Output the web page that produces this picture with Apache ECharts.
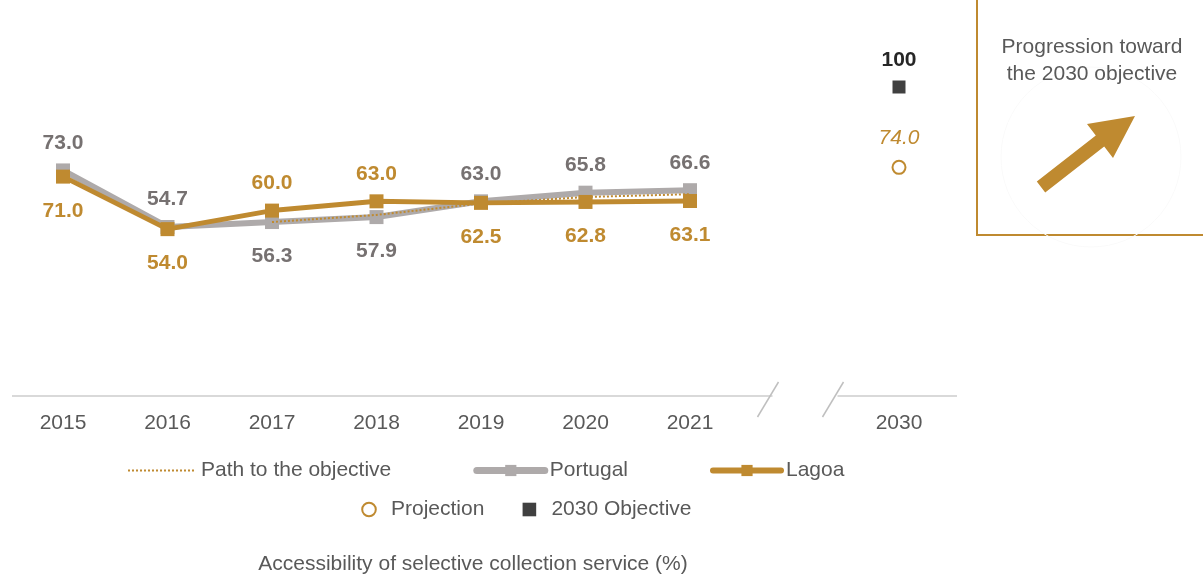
<!DOCTYPE html>
<html><head><meta charset="utf-8">
<script src="https://cdn.jsdelivr.net/npm/echarts@6/dist/echarts.min.js"></script>
<style>html,body{margin:0;padding:0;background:#fff}#c{width:1203px;height:577px}</style>
</head><body><div id="c"></div>
<script>
const categories = ['2015','2016','2017','2018','2019','2020','2021','','2030'];
const portugal = [73.0, 54.7, 56.3, 57.9, 63.0, 65.8, 66.6, null, null];
const lagoa = [71.0, 54.0, 60.0, 63.0, 62.5, 62.8, 63.1, null, null];
const pathToObjective = [null, null, 56.3, 58.6, 62.3, 64.4, 65.3, null, null];
const projection = [null, null, null, null, null, null, null, null, 74.0];
const objective2030 = [null, null, null, null, null, null, null, null, 100];
const seriesNames = ['Path to the objective', 'Portugal', 'Lagoa', 'Projection', '2030 Objective'];
const chartTitle = 'Accessibility of selective collection service (%)';
const boxText = 'Progression toward\nthe 2030 objective';

const GOLD = '#BF8A30', GRAY = '#AEAAAA', GRAYTXT = '#767171', TXT = '#595959', DARK = '#404040';
const FONT = "'Liberation Sans', Arial, sans-serif";
const FS = 21;
const portugalBelow = [2, 3];   // indices labelled below the point
const lagoaAbove = [2, 3];      // indices labelled above the point

function withLabels(values, isBelow) {
  return values.map((v, i) => v == null ? null : {
    value: v,
    label: { position: isBelow(i) ? 'bottom' : 'top', distance: isBelow(i) ? 17 : 10 }
  });
}

const chart = echarts.init(document.getElementById('c'), null, { renderer: 'canvas' });
const option = {
  animation: false,
  textStyle: { fontFamily: FONT },
  grid: { left: 10.75, right: 251.75, top: 87, bottom: 181, containLabel: false },
  xAxis: {
    type: 'category', data: categories, boundaryGap: true,
    axisLine: { show: false }, axisTick: { show: false },
    axisLabel: { color: TXT, fontSize: FS, fontFamily: FONT, margin: 17 }
  },
  yAxis: { type: 'value', min: 0, max: 100, show: false, splitLine: { show: false } },
  legend: [
    {
      data: [
        { name: seriesNames[0], itemStyle: { opacity: 0 }, lineStyle: { width: 2, type: 'dotted', color: GOLD } },
        { name: seriesNames[1], lineStyle: { width: 7, cap: 'round', color: GRAY } },
        { name: seriesNames[2], lineStyle: { width: 6, cap: 'round', color: GOLD } }
      ],
      top: 455, left: 122, itemWidth: 68, itemHeight: 14, itemGap: 82,
      textStyle: { color: TXT, fontSize: FS, fontFamily: FONT }
    },
    {
      data: seriesNames.slice(3), top: 494, left: 347, itemWidth: 34, itemHeight: 17, itemGap: 28,
      textStyle: { color: TXT, fontSize: FS, fontFamily: FONT }
    }
  ],
  title: {
    text: chartTitle, left: 468, textAlign: 'center', top: 549,
    textStyle: { color: TXT, fontSize: 21, fontWeight: 'normal', fontFamily: FONT }
  },
  series: [
    {
      name: seriesNames[1], type: 'line', data: withLabels(portugal, i => portugalBelow.includes(i)),
      symbol: 'rect', symbolSize: 14, z: 2,
      lineStyle: { color: GRAY, width: 6 }, itemStyle: { color: GRAY },
      label: { show: true, color: GRAYTXT, fontSize: FS, fontWeight: 'bold', fontFamily: FONT, formatter: p => p.value.toFixed(1) }
    },
    {
      name: seriesNames[0], type: 'line', data: pathToObjective, symbol: 'none', z: 3,
      lineStyle: { color: GOLD, width: 2, type: 'dotted' }, itemStyle: { color: GOLD }
    },
    {
      name: seriesNames[2], type: 'line', data: withLabels(lagoa, i => !lagoaAbove.includes(i)),
      symbol: 'rect', symbolSize: 14, z: 4,
      lineStyle: { color: GOLD, width: 5 }, itemStyle: { color: GOLD },
      label: { show: true, color: GOLD, fontSize: FS, fontWeight: 'bold', fontFamily: FONT, formatter: p => p.value.toFixed(1) }
    },
    {
      name: seriesNames[3], type: 'line', data: projection, symbol: 'circle', symbolSize: 13, z: 5,
      lineStyle: { width: 0 }, itemStyle: { color: '#fff', borderColor: GOLD, borderWidth: 2 },
      label: { show: true, position: 'top', distance: 11, color: GOLD, fontSize: FS, fontStyle: 'italic', fontFamily: FONT, formatter: p => p.value.toFixed(1) }
    },
    {
      name: seriesNames[4], type: 'line', data: objective2030, symbol: 'rect', symbolSize: 13, z: 5,
      lineStyle: { width: 0 }, itemStyle: { color: DARK },
      label: { show: true, position: 'top', distance: 10, color: '#262626', fontSize: FS, fontWeight: 'bold', fontFamily: FONT }
    }
  ]
};
chart.setOption(option);

// decorations: broken axis line and the objective box
const yAxisPix = chart.convertToPixel({ yAxisIndex: 0 }, 0);
const xStart = chart.convertToPixel({ xAxisIndex: 0 }, categories[0]) - 51;
const xGap = chart.convertToPixel({ xAxisIndex: 0 }, categories[7]);
const xEnd = chart.convertToPixel({ xAxisIndex: 0 }, categories[8]) + 58;
const b1 = xGap - 22, b2 = xGap + 43;
const AX = '#D9D9D9';
chart.setOption({
  graphic: [
    { type: 'line', shape: { x1: xStart, y1: yAxisPix, x2: b1, y2: yAxisPix }, style: { stroke: AX, lineWidth: 2 } },
    { type: 'line', shape: { x1: b2, y1: yAxisPix, x2: xEnd, y2: yAxisPix }, style: { stroke: AX, lineWidth: 2 } },
    { type: 'line', shape: { x1: b1 + 6, y1: yAxisPix - 14, x2: b1 - 15, y2: yAxisPix + 21 }, style: { stroke: '#BFBFBF', lineWidth: 1.5 } },
    { type: 'line', shape: { x1: b2 + 6, y1: yAxisPix - 14, x2: b2 - 15, y2: yAxisPix + 21 }, style: { stroke: '#BFBFBF', lineWidth: 1.5 } },
    { type: 'rect', shape: { x: 977, y: -10, width: 240, height: 245 }, style: { fill: 'none', stroke: GOLD, lineWidth: 2 } },
    { type: 'circle', shape: { cx: 1091, cy: 157, r: 90 }, style: { fill: 'none', stroke: '#FAFAFA', lineWidth: 1 } },
    { type: 'text', x: 1092, y: 34, style: { text: boxText, fill: TXT, font: "21px 'Liberation Sans', Arial, sans-serif", textAlign: 'center', lineHeight: 27 } },
    { type: 'polygon', shape: { points: [[1036.8,181.4],[1095.8,135.4],[1087,124],[1135,116],[1113,158],[1104.2,146.6],[1045.2,192.6]] }, style: { fill: GOLD } }
  ]
});
</script>
</body></html>
